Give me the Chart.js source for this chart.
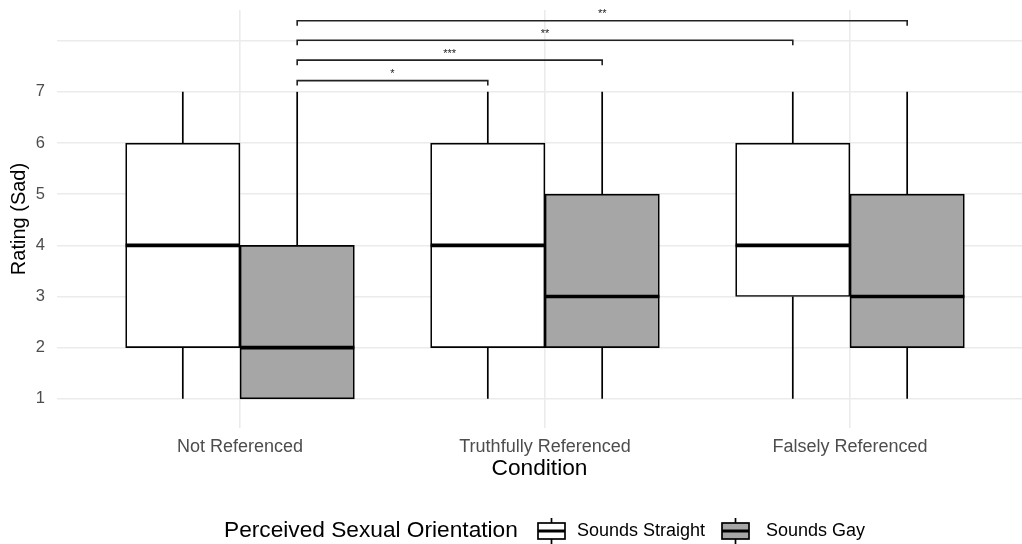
<!DOCTYPE html>
<html>
<head>
<meta charset="utf-8">
<script src="https://cdn.jsdelivr.net/npm/chart.js@4"></script>
<style>
  body { margin: 0; background: #fff; }
  #wrap { width: 1022px; height: 544px; position: relative; }
</style>
</head>
<body>
<div id="wrap"><canvas id="c"></canvas></div>
<script>
// ---- data ----
const conditions = ['Not Referenced', 'Truthfully Referenced', 'Falsely Referenced'];
const groups = ['Sounds Straight', 'Sounds Gay'];
const groupColors = ['#ffffff', '#a6a6a6'];

const straightMin = [1, 1, 1];
const straightQ1  = [2, 2, 3];
const straightMed = [4, 4, 4];
const straightQ3  = [6, 6, 6];
const straightMax = [7, 7, 7];

const gayMin = [1, 1, 1];
const gayQ1  = [1, 2, 2];
const gayMed = [2, 3, 3];
const gayQ3  = [4, 5, 5];
const gayMax = [7, 7, 7];

const yTicks = [1, 2, 3, 4, 5, 6, 7, 8];
const yLabels = ['1', '2', '3', '4', '5', '6', '7', ''];

// significance brackets: from/to in x units, height in rating units
const bracketFrom  = [0.1875, 0.1875, 0.1875, 0.1875];
const bracketTo    = [0.8125, 1.1875, 1.8125, 2.1875];
const bracketY     = [7.22, 7.62, 8.01, 8.39];
const bracketLabel = ['*', '***', '**', '**'];

const DODGE = 0.1875;   // half of the dodge width
const FONT = '"Liberation Sans", Arial, sans-serif';

function boxData(q1, q3, off) {
  return conditions.map((c, i) => ({ x: i + off, y: [q1[i], q3[i]] }));
}
const stats = [
  { min: straightMin, q1: straightQ1, med: straightMed, q3: straightQ3, max: straightMax, off: -DODGE },
  { min: gayMin, q1: gayQ1, med: gayMed, q3: gayQ3, max: gayMax, off: DODGE },
];

// whiskers, medians, brackets, legend
const boxExtras = {
  id: 'boxExtras',
  beforeDatasetsDraw(chart) {
    const { ctx, scales: { x, y } } = chart;
    ctx.save();
    ctx.strokeStyle = '#000';
    ctx.lineWidth = 1.7;
    stats.forEach(s => conditions.forEach((c, i) => {
      const px = x.getPixelForValue(i + s.off);
      ctx.beginPath();
      ctx.moveTo(px, y.getPixelForValue(s.max[i]));
      ctx.lineTo(px, y.getPixelForValue(s.q3[i]));
      ctx.moveTo(px, y.getPixelForValue(s.q1[i]));
      ctx.lineTo(px, y.getPixelForValue(s.min[i]));
      ctx.stroke();
    }));
    ctx.restore();
  },
  afterDatasetsDraw(chart) {
    const { ctx, scales: { x, y } } = chart;
    ctx.save();
    ctx.strokeStyle = '#000';
    ctx.lineWidth = 3.6;
    stats.forEach((s, d) => {
      chart.getDatasetMeta(d).data.forEach((bar, i) => {
        const py = y.getPixelForValue(s.med[i]);
        ctx.beginPath();
        ctx.moveTo(bar.x - bar.width / 2, py);
        ctx.lineTo(bar.x + bar.width / 2, py);
        ctx.stroke();
      });
    });

    // brackets
    ctx.lineWidth = 1.6;
    ctx.strokeStyle = '#222';
    ctx.fillStyle = '#222';
    ctx.font = '11px ' + FONT;
    ctx.textAlign = 'center';
    ctx.textBaseline = 'bottom';
    const tip = 5;
    bracketFrom.forEach((f, k) => {
      const x1 = x.getPixelForValue(f), x2 = x.getPixelForValue(bracketTo[k]);
      const py = y.getPixelForValue(bracketY[k]);
      ctx.beginPath();
      ctx.moveTo(x1, py + tip);
      ctx.lineTo(x1, py);
      ctx.lineTo(x2, py);
      ctx.lineTo(x2, py + tip);
      ctx.stroke();
      ctx.fillText(bracketLabel[k], (x1 + x2) / 2, py - 1);
    });
    ctx.restore();
  },
  afterDraw(chart) {
    // legend
    const { ctx } = chart;
    const cy = 531;
    ctx.save();
    ctx.fillStyle = '#000';
    ctx.textBaseline = 'middle';
    ctx.textAlign = 'left';
    ctx.font = '22.7px ' + FONT;
    ctx.fillText('Perceived Sexual Orientation', 224, cy);
    const keyX = [538, 722];
    const textX = [577, 766];
    groups.forEach((g, k) => {
      const kx = keyX[k], w = 27, h = 16;
      ctx.strokeStyle = '#000';
      ctx.lineWidth = 1.7;
      ctx.beginPath();
      ctx.moveTo(kx + w / 2, cy - 13);
      ctx.lineTo(kx + w / 2, cy + 13);
      ctx.stroke();
      ctx.fillStyle = groupColors[k];
      ctx.fillRect(kx, cy - h / 2, w, h);
      ctx.strokeRect(kx, cy - h / 2, w, h);
      ctx.lineWidth = 3;
      ctx.beginPath();
      ctx.moveTo(kx, cy);
      ctx.lineTo(kx + w, cy);
      ctx.stroke();
      ctx.fillStyle = '#000';
      ctx.font = '18px ' + FONT;
      ctx.fillText(g, textX[k], cy);
    });
    ctx.restore();
  }
};

new Chart(document.getElementById('c'), {
  type: 'bar',
  data: {
    datasets: groups.map((g, d) => ({
      label: g,
      data: boxData(stats[d].q1, stats[d].q3, stats[d].off),
      backgroundColor: groupColors[d],
      borderColor: '#000',
      borderWidth: 1.7,
      borderSkipped: false,
      grouped: false,
      barPercentage: 1,
      categoryPercentage: 1,
    }))
  },
  options: {
    responsive: true,
    maintainAspectRatio: false,
    animation: false,
    layout: { padding: { top: 10, right: 0, bottom: 62, left: 0 } },
    plugins: { legend: { display: false }, tooltip: { enabled: false } },
    scales: {
      x: {
        type: 'linear',
        offset: false,
        min: -0.6,
        max: 2.564,
        afterBuildTicks: s => { s.ticks = conditions.map((c, i) => ({ value: i })); },
        afterFit: s => { s.height = 54; s.paddingLeft = 0; s.paddingRight = 0; },
        ticks: {
          callback: v => conditions[v] ?? '',
          color: '#4d4d4d',
          font: { family: FONT, size: 18 },
          padding: 8,
          maxRotation: 0,
        },
        grid: { color: '#ebebeb', lineWidth: 1.6, drawTicks: false, offset: false },
        border: { display: false },
        title: {
          display: true, text: 'Condition', color: '#000',
          font: { family: FONT, size: 22.7 }, padding: { top: 0, bottom: 0 }
        }
      },
      y: {
        min: 0.43,
        max: 8.6,
        afterBuildTicks: s => { s.ticks = yTicks.map(v => ({ value: v })); },
        afterFit: s => { s.width = 57; s.paddingTop = 0; s.paddingBottom = 0; },
        ticks: {
          callback: v => yLabels[yTicks.indexOf(v)] ?? '',
          color: '#4d4d4d',
          font: { family: FONT, size: 16.5 },
          padding: 12,
        },
        grid: { color: '#ebebeb', lineWidth: 1.6, drawTicks: false },
        border: { display: false },
        title: {
          display: true, text: 'Rating (Sad)', color: '#000',
          font: { family: FONT, size: 20 }, padding: { top: 7, bottom: 0 }
        }
      }
    }
  },
  plugins: [boxExtras]
});
</script>
</body>
</html>
